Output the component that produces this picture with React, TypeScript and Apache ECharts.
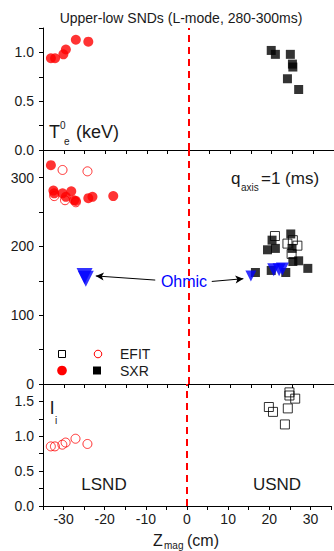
import React, { useEffect, useRef } from 'react';
import * as echarts from 'echarts';

const titleText = 'Upper-low SNDs (L-mode, 280-300ms)';

// Panel 1: central electron temperature Te0 (keV)
const teLsndZ = [-33.1, -32.1, -30.1, -29.5, -27.1, -24.1];
const teLsndVal = [0.94, 0.94, 0.98, 1.03, 1.13, 1.11];
const teUsndZ = [19.9, 20.9, 24.5, 25.0, 25.1, 23.8, 26.5];
const teUsndVal = [1.02, 0.98, 0.98, 0.88, 0.85, 0.73, 0.62];

// Panel 2: q_axis = 1 time (ms)
const qLsndEfitZ = [-30.3, -24.3, -32.3, -29.7, -27.1];
const qLsndEfitVal = [311, 309, 273, 267, 264];
const qLsndSxrZ = [-33.1, -32.5, -32.3, -30.3, -29.5, -28.2, -27.5, -27.1, -24.1, -23.1, -18.1];
const qLsndSxrVal = [318, 281, 277, 277, 272, 280, 267, 266, 270, 272, 273];
const qUsndEfitZ = [20.8, 23.8, 26.2, 24.8, 25.1];
const qUsndEfitVal = [215, 204, 201, 189, 209];
const qUsndSxrZ = [19.0, 20.1, 20.9, 24.6, 24.9, 25.1, 26.5, 28.7, 16.1, 19.9, 23.4];
const qUsndSxrVal = [195, 209, 197, 218, 197, 178, 179, 168, 162, 165, 162];
const ohmicLsndZ = [-25.0, -24.7];
const ohmicLsndVal = [157, 153];
const ohmicUsndSmallZ = [15.0];
const ohmicUsndSmallVal = [157];
const ohmicUsndZ = [20.5, 21.8, 22.6];
const ohmicUsndVal = [166, 166, 167];
// arrows (from label to points)
const arrowLeft = [[-8.0, 151], [-22.3, 157]];
const arrowRight = [[5.6, 149], [13.2, 153]];

// Panel 3: internal inductance li
const liLsndZ = [-33.1, -32.1, -30.3, -29.5, -27.1, -24.2];
const liLsndVal = [0.855, 0.855, 0.88, 0.91, 0.965, 0.89];
const liUsndZ = [19.9, 20.9, 24.9, 24.9, 26.3, 24.5, 23.8];
const liUsndVal = [1.42, 1.35, 1.63, 1.585, 1.54, 1.40, 1.17];

const xMin = -35;
const xMax = 35;
const xStep = 5;
const xLabelStep = 10;

const FONT = 'Liberation Sans, Arial, sans-serif';
const TXT = '#1a1a1a';
const RED = '#ff0000';
const BLUE = '#0000ff';

const pts = (zs: number[], vs: number[]) => zs.map((z, i) => [z, vs[i]]);

export default function App() {
  const ref = useRef<HTMLDivElement>(null);
  useEffect(() => {
    if (!ref.current) return;
    const chart = echarts.init(ref.current, null, { renderer: 'svg' });

    const grids = [
      { left: 43, width: 293, top: 28, height: 122 },
      { left: 43, width: 293, top: 150, height: 234 },
      { left: 43, width: 293, top: 384, height: 122 },
    ];

    const mkX = (idx: number, showLabel: boolean) => ({
      type: 'value',
      gridIndex: idx,
      min: xMin,
      max: xMax,
      interval: xStep,
      splitLine: { show: false },
      axisLine: { onZero: false, lineStyle: { color: '#000', width: 1 } },
      axisTick: { length: 4, lineStyle: { color: '#000' } },
      axisLabel: {
        show: showLabel,
        fontFamily: FONT,
        fontSize: 14,
        color: TXT,
        margin: 6,
        formatter: (v: number) => (Math.abs(v) % xLabelStep === 0 ? String(v) : ''),
      },
    });

    const mkY = (idx: number, min: number, max: number, interval: number, labelEvery: number, digits: number) => ({
      type: 'value',
      gridIndex: idx,
      min,
      max,
      interval,
      splitLine: { show: false },
      axisLine: { show: true, onZero: false, lineStyle: { color: '#000', width: 1 } },
      axisTick: { show: true, length: 4, lineStyle: { color: '#000' } },
      axisLabel: {
        fontFamily: FONT,
        fontSize: 14,
        color: TXT,
        margin: 9,
        formatter: (v: number) => {
          if (v >= max - 1e-9) return '';
          const r = v / labelEvery;
          return Math.abs(r - Math.round(r)) < 1e-6 ? v.toFixed(digits) : '';
        },
      },
    });

    const dashed = {
      silent: true,
      symbol: ['none', 'none'],
      label: { show: false },
      lineStyle: { color: RED, type: [7, 5], width: 2 },
      data: [{ xAxis: 0 }],
    };

    const filledCircle = { color: RED };
    const openCircle = { color: 'rgba(255,255,255,0)', borderColor: RED, borderWidth: 1 };
    const filledSquare = { color: '#000' };
    const openSquare = { color: 'rgba(255,255,255,0)', borderColor: '#000', borderWidth: 1 };

    const option: any = {
      animation: false,
      grid: grids,
      xAxis: [mkX(0, false), mkX(1, false), mkX(2, true)],
      yAxis: [
        mkY(0, 0, 1.25, 0.25, 0.5, 1),
        mkY(1, 0, 340, 50, 100, 0),
        mkY(2, 0, 1.75, 0.25, 0.5, 1),
      ],
      series: [
        // panel 1
        {
          type: 'scatter', xAxisIndex: 0, yAxisIndex: 0, symbol: 'circle', symbolSize: 10,
          itemStyle: filledCircle, data: pts(teLsndZ, teLsndVal), markLine: dashed,
        },
        {
          type: 'scatter', xAxisIndex: 0, yAxisIndex: 0, symbol: 'rect', symbolSize: 9,
          itemStyle: filledSquare, data: pts(teUsndZ, teUsndVal),
        },
        // panel 2
        {
          type: 'scatter', xAxisIndex: 1, yAxisIndex: 1, symbol: 'circle', symbolSize: 9,
          itemStyle: openCircle, data: pts(qLsndEfitZ, qLsndEfitVal), markLine: dashed,
        },
        {
          type: 'scatter', xAxisIndex: 1, yAxisIndex: 1, symbol: 'circle', symbolSize: 10,
          itemStyle: filledCircle, data: pts(qLsndSxrZ, qLsndSxrVal),
        },
        {
          type: 'scatter', xAxisIndex: 1, yAxisIndex: 1, symbol: 'rect', symbolSize: 9,
          itemStyle: openSquare, data: pts(qUsndEfitZ, qUsndEfitVal),
        },
        {
          type: 'scatter', xAxisIndex: 1, yAxisIndex: 1, symbol: 'rect', symbolSize: 9,
          itemStyle: filledSquare, data: pts(qUsndSxrZ, qUsndSxrVal),
        },
        {
          type: 'scatter', xAxisIndex: 1, yAxisIndex: 1, symbol: 'triangle', symbolRotate: 180, symbolSize: 16,
          itemStyle: { color: BLUE }, data: pts(ohmicLsndZ, ohmicLsndVal),
          markLine: {
            silent: true,
            symbol: ['none', 'arrow'],
            symbolSize: [6, 8],
            label: { show: false },
            lineStyle: { color: '#000', type: 'solid', width: 1 },
            data: [
              [{ coord: arrowLeft[0] }, { coord: arrowLeft[1] }],
              [{ coord: arrowRight[0] }, { coord: arrowRight[1] }],
            ],
          },
        },
        {
          type: 'scatter', xAxisIndex: 1, yAxisIndex: 1, symbol: 'triangle', symbolRotate: 180, symbolSize: 11,
          itemStyle: { color: BLUE }, data: pts(ohmicUsndSmallZ, ohmicUsndSmallVal),
        },
        {
          type: 'scatter', xAxisIndex: 1, yAxisIndex: 1, symbol: 'triangle', symbolRotate: 180, symbolSize: 13,
          itemStyle: { color: BLUE }, data: pts(ohmicUsndZ, ohmicUsndVal),
        },
        // panel 3
        {
          type: 'scatter', xAxisIndex: 2, yAxisIndex: 2, symbol: 'circle', symbolSize: 9,
          itemStyle: openCircle, data: pts(liLsndZ, liLsndVal), markLine: dashed,
        },
        {
          type: 'scatter', xAxisIndex: 2, yAxisIndex: 2, symbol: 'rect', symbolSize: 9,
          itemStyle: openSquare, data: pts(liUsndZ, liUsndVal),
        },
      ],
      graphic: [
        { type: 'text', x: 181, y: 18, style: { text: titleText, font: `14px ${FONT}`, fill: TXT, textAlign: 'center', textVerticalAlign: 'middle' } },
        // Te0 (keV)
        { type: 'text', x: 49, y: 132, style: { text: 'T', font: `18px ${FONT}`, fill: TXT, textVerticalAlign: 'middle' } },
        { type: 'text', x: 60, y: 125, style: { text: '0', font: `10px ${FONT}`, fill: TXT, textVerticalAlign: 'middle' } },
        { type: 'text', x: 64, y: 141, style: { text: 'e', font: `10px ${FONT}`, fill: TXT, textVerticalAlign: 'middle' } },
        { type: 'text', x: 76, y: 132, style: { text: '(keV)', font: `18px ${FONT}`, fill: TXT, textVerticalAlign: 'middle' } },
        // q_axis=1 (ms)
        { type: 'text', x: 231, y: 178, style: { text: 'q', font: `17px ${FONT}`, fill: TXT, textVerticalAlign: 'middle' } },
        { type: 'text', x: 241, y: 187, style: { text: 'axis', font: `10px ${FONT}`, fill: TXT, textVerticalAlign: 'middle' } },
        { type: 'text', x: 261, y: 178, style: { text: '=1 (ms)', font: `17px ${FONT}`, fill: TXT, textVerticalAlign: 'middle' } },
        // Ohmic
        { type: 'text', x: 184, y: 281, style: { text: 'Ohmic', font: `16px ${FONT}`, fill: BLUE, textAlign: 'center', textVerticalAlign: 'middle' } },
        // legend
        { type: 'rect', shape: { x: 58.5, y: 350.5, width: 7, height: 7 }, style: { fill: 'none', stroke: '#000', lineWidth: 1 } },
        { type: 'circle', shape: { cx: 98, cy: 354, r: 3.8 }, style: { fill: 'none', stroke: RED, lineWidth: 1 } },
        { type: 'text', x: 120, y: 354, style: { text: 'EFIT', font: `14px ${FONT}`, fill: TXT, textVerticalAlign: 'middle' } },
        { type: 'circle', shape: { cx: 62, cy: 370.5, r: 4.8 }, style: { fill: RED } },
        { type: 'rect', shape: { x: 93, y: 366.5, width: 8, height: 8 }, style: { fill: '#000' } },
        { type: 'text', x: 120, y: 371, style: { text: 'SXR', font: `14px ${FONT}`, fill: TXT, textVerticalAlign: 'middle' } },
        // li
        { type: 'text', x: 50, y: 407, style: { text: 'l', font: `19px ${FONT}`, fill: TXT, textVerticalAlign: 'middle' } },
        { type: 'text', x: 55, y: 420, style: { text: 'i', font: `10px ${FONT}`, fill: TXT, textVerticalAlign: 'middle' } },
        // LSND / USND
        { type: 'text', x: 104, y: 484, style: { text: 'LSND', font: `17px ${FONT}`, fill: TXT, textAlign: 'center', textVerticalAlign: 'middle' } },
        { type: 'text', x: 277, y: 484, style: { text: 'USND', font: `17px ${FONT}`, fill: TXT, textAlign: 'center', textVerticalAlign: 'middle' } },
        // x axis name
        { type: 'text', x: 153, y: 540, style: { text: 'Z', font: `16px ${FONT}`, fill: TXT, textVerticalAlign: 'middle' } },
        { type: 'text', x: 164, y: 545, style: { text: 'mag', font: `10px ${FONT}`, fill: TXT, textVerticalAlign: 'middle' } },
        { type: 'text', x: 187, y: 540, style: { text: '(cm)', font: `16px ${FONT}`, fill: TXT, textVerticalAlign: 'middle' } },
      ],
    };

    chart.setOption(option);
    return () => chart.dispose();
  }, []);

  return (
    <div
      ref={ref}
      style={{ position: 'absolute', left: 0, top: 0, width: 334, height: 551, background: '#fff' }}
    />
  );
}
